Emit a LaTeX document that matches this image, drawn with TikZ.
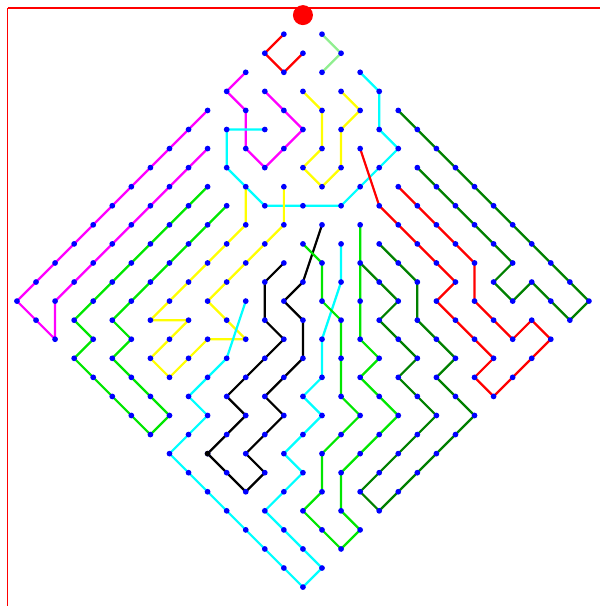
\documentclass[tikz,border=0pt]{standalone}
\usepackage{xcolor}
\usepackage{tikz}
\usetikzlibrary{calc}
\definecolor{verdeclaro}{RGB}{144,238,144}
\definecolor{verdevivo}{RGB}{0,230,0}
\definecolor{verdeescuro}{RGB}{0,128,0}
\definecolor{ciano}{RGB}{0,255,255}
\definecolor{rosa}{RGB}{255,0,255}
\definecolor{amarelo}{RGB}{255,255,0}
\definecolor{vermelho}{RGB}{255,0,0}
\definecolor{azul}{RGB}{0,0,255}

\begin{document}
\begin{tikzpicture}[
    x=0.02cm, y=0.02cm,
    ponto/.style={
    circle,
    fill=azul,
    inner sep=0pt,
    minimum size=0.115cm
    },
    trilha/.style={line width=0.045cm, line join=round, line cap=round}
    ]
    
    \useasboundingbox (0,0) rectangle (600,606);
    
    % moldura
    \coordinate (cantoA) at (7.5,0);
    \coordinate (cantoB) at (7.5,598);
    \coordinate (cantoC) at (600,598);
    \draw[vermelho,line width=0.025cm] (cantoA) -- (cantoB);
    \draw[vermelho,line width=0.045cm] (cantoB) -- (cantoC);
    
    % grade em losango
    \begin{scope}[shift={(6.06cm,11.82cm)}, x=0.3814cm, y=-0.3814cm]
    \foreach \i in {0,...,15}
      \foreach \j in {0,...,15}
        \coordinate (p\i-\j) at ({\i-\j},{\i+\j});
    \end{scope}
    
    % caminhos
    \draw[trilha,vermelho] (p0-1) -- (p0-2) -- (p1-2) -- (p1-1);
    \draw[trilha,verdeclaro] (p1-0) -- (p2-0) -- (p2-1);
    \draw[trilha,rosa] (p1-3) -- (p3-3) -- (p3-5) -- (p2-5) -- (p1-4)
      -- (p0-4) -- (p0-3);
    \draw[trilha,rosa] (p0-5) -- (p0-15) -- (p2-15) -- (p1-14) -- (p1-6);
    \draw[trilha,ciano] (p3-0) -- (p4-0) -- (p5-1) -- (p6-1) -- (p6-4)
      -- (p4-6) -- (p2-6) -- (p1-5) -- (p2-4);
    \draw[trilha,amarelo] (p2-2) -- (p3-2) -- (p4-3) -- (p4-4) -- (p5-4)
      -- (p5-3) -- (p4-2) -- (p4-1) -- (p3-1);
    \draw[trilha,vermelho] (p5-2) -- (p7-3) -- (p8-3) -- (p11-3) -- (p11-4)
      -- (p14-4) -- (p14-5) -- (p15-5) -- (p15-2) -- (p14-2) -- (p14-3)
      -- (p12-3) -- (p11-2) -- (p7-2);
    \draw[trilha,verdeescuro] (p5-0) -- (p15-0) -- (p15-1) -- (p13-1)
      -- (p13-2) -- (p12-2) -- (p12-1) -- (p7-1);
    \draw[trilha,verdeescuro] (p8-5) -- (p10-5) -- (p10-6) -- (p12-6)
      -- (p12-7) -- (p14-7) -- (p14-11) -- (p15-11) -- (p15-6) -- (p13-6)
      -- (p13-5) -- (p11-5) -- (p10-4) -- (p8-4);
    \draw[trilha,verdevivo] (p2-7) -- (p2-14) -- (p3-14) -- (p3-15)
      -- (p4-15) -- (p7-15) -- (p7-14) -- (p4-14) -- (p4-13) -- (p3-13)
      -- (p3-7);
    \draw[trilha,amarelo] (p3-6) -- (p4-7) -- (p4-12) -- (p5-11) -- (p5-13)
      -- (p6-13) -- (p6-11) -- (p7-10) -- (p5-10) -- (p5-6) -- (p4-5);
    \draw[trilha,black] (p6-7) -- (p6-8) -- (p7-9) -- (p8-9) -- (p8-12)
      -- (p9-12) -- (p9-14) -- (p11-14) -- (p11-13) -- (p10-13) -- (p10-11)
      -- (p9-11) -- (p9-9) -- (p8-8) -- (p7-8) -- (p7-7) -- (p6-5);
    \draw[trilha,ciano] (p6-9) -- (p7-11) -- (p7-13) -- (p8-13) -- (p8-15)
      -- (p15-15) -- (p15-14) -- (p12-14) -- (p12-12) -- (p11-12)
      -- (p11-10) -- (p10-10) -- (p10-9) -- (p9-8) -- (p8-6) -- (p7-5);
    \draw[trilha,verdevivo] (p6-6) -- (p7-6) -- (p8-7) -- (p9-7) -- (p11-9)
      -- (p12-9) -- (p12-11) -- (p13-12) -- (p13-13) -- (p15-13) -- (p15-12)
      -- (p14-12) -- (p13-11) -- (p13-8) -- (p12-8) -- (p11-8) -- (p11-7)
      -- (p10-7) -- (p7-4);
    
    % pontos
    \foreach \i in {0,...,15}
      \foreach \j in {0,...,15}
        \node[ponto] (n\i-\j) at (p\i-\j) {};
    \node[ponto,fill=black] (preto) at (p9-14) {};
    \node[circle,fill=vermelho,inner sep=0pt,minimum size=0.4cm] (topo) at (p0-0) {};
    
\end{tikzpicture}
\end{document}
